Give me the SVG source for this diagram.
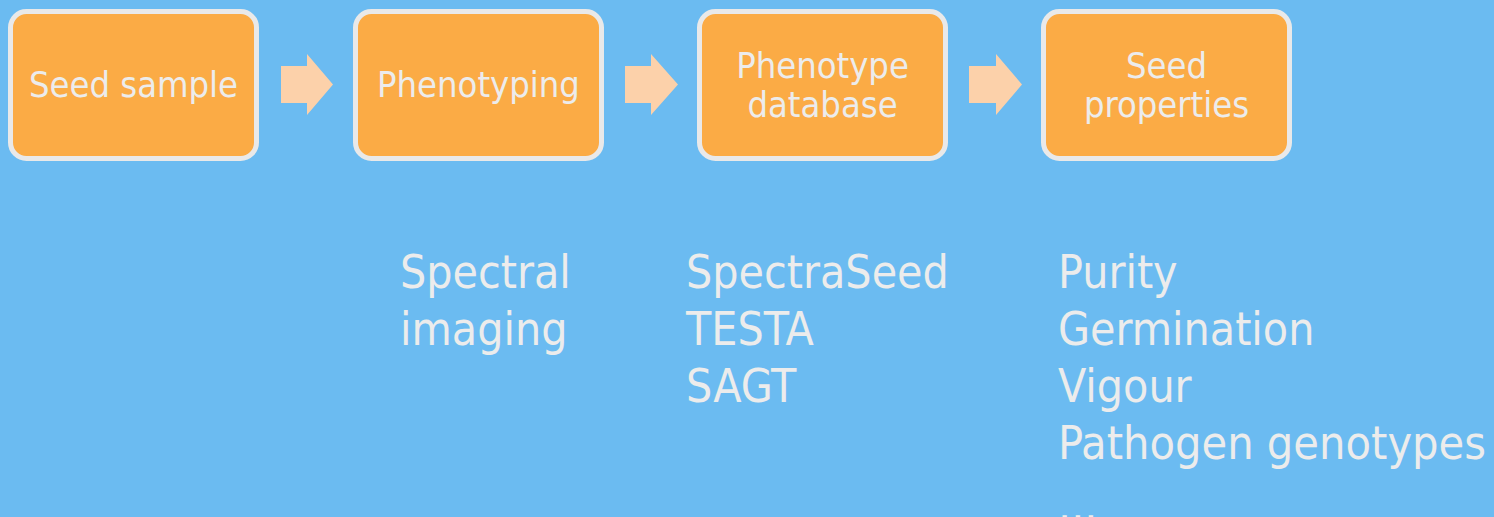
<svg xmlns="http://www.w3.org/2000/svg" width="1494" height="517" viewBox="0 0 1494 517">
<style>
.box{fill:#fbab45;stroke:#e9e9e9;stroke-width:5}
.arr{fill:#fcd1aa}
text{font-family:"DejaVu Sans Condensed","DejaVu Sans",sans-serif;fill:#ececec}
.bt{font-size:36px;text-anchor:middle}
.lt{font-size:46px}
</style>
<rect width="1494" height="517" fill="#6bbbf1"/>
<g id="connectors">
<path class="arr" d="M281,66H307V54L333,84.5L307,115V103H281Z"/>
<path class="arr" d="M625,66H651V54L678,84.5L651,115V103H625Z"/>
<path class="arr" d="M969,66H996V54L1022,84.5L996,115V103H969Z"/>
</g>
<g id="n1"><rect class="box" x="10.5" y="11.5" width="246" height="147" rx="16"/><text class="bt" x="133.5" y="97">Seed sample</text></g>
<g id="n2"><rect class="box" x="355.5" y="11.5" width="246" height="147" rx="16"/><text class="bt" x="478.5" y="97">Phenotyping</text></g>
<g id="n3"><rect class="box" x="699.5" y="11.5" width="246" height="147" rx="16"/><text class="bt" x="822.5" y="78">Phenotype</text><text class="bt" x="822.5" y="117">database</text></g>
<g id="n4"><rect class="box" x="1043.5" y="11.5" width="246" height="147" rx="16"/><text class="bt" x="1166.5" y="78">Seed</text><text class="bt" x="1166.5" y="117">properties</text></g>
<g id="l1"><text class="lt" x="400" y="288">Spectral</text><text class="lt" x="400" y="345">imaging</text></g>
<g id="l2"><text class="lt" x="686" y="288">SpectraSeed</text><text class="lt" x="686" y="345">TESTA</text><text class="lt" x="686" y="402">SAGT</text></g>
<g id="l3"><text class="lt" x="1058" y="288">Purity</text><text class="lt" x="1058" y="345">Germination</text><text class="lt" x="1058" y="402">Vigour</text><text class="lt" x="1058" y="459" textLength="428" lengthAdjust="spacingAndGlyphs">Pathogen genotypes</text><text class="lt" x="1058" y="521">...</text></g>
</svg>
